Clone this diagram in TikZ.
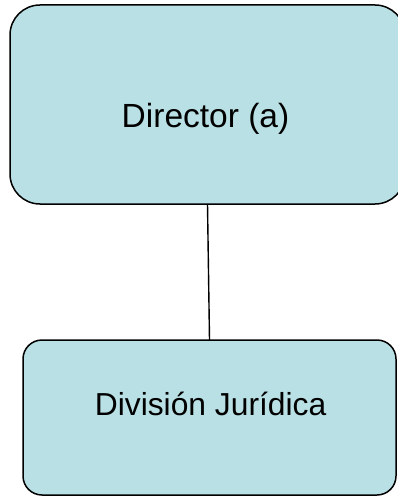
\documentclass[tikz,border=0pt]{standalone}
\usepackage{fontspec}
\setmainfont{Liberation Sans}
\definecolor{boxfill}{RGB}{185,224,228}
\begin{document}
\begin{tikzpicture}[x=1pt,y=-1pt,
  orgbox/.style={draw=black,line width=1.5pt,fill=boxfill,inner sep=0pt,outer sep=0pt},
  boxlabel/.style={anchor=base,inner sep=0pt,text=black},
  link/.style={draw=black,line width=1.4pt}]
  \useasboundingbox (0,0) rectangle (398,497);
  \clip (0,0) rectangle (398,497);
  % upper box (runs slightly past the right edge)
  \node[orgbox,rounded corners=30pt,minimum width=395pt,minimum height=199pt] (top) at (207.5,104.5) {};
  % lower box
  \node[orgbox,rounded corners=19pt,minimum width=373pt,minimum height=155pt] (bot) at (209.5,417.5) {};
  % connector
  \draw[link] (top.south) -- (bot.north);
  % labels
  \node[boxlabel,font=\fontsize{33.5}{40}\selectfont] (toplabel) at (205.5,127.3) {Director (a)};
  \node[boxlabel,font=\fontsize{31.8}{38}\selectfont] (botlabel) at (210.6,415) {División Jurídica};
\end{tikzpicture}
\end{document}
